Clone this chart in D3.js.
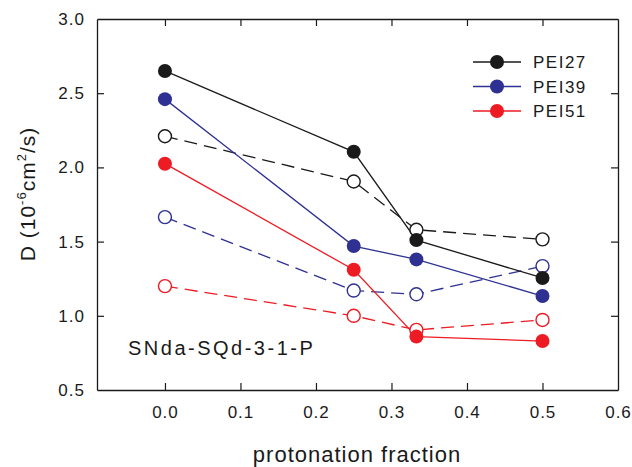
<!DOCTYPE html>
<html>
<head>
<meta charset="utf-8">
<script src="https://cdn.jsdelivr.net/npm/d3@7"></script>
<style>
  body { margin: 0; background: #fff; }
  svg text { font-family: Arial, "Liberation Sans", sans-serif; fill: #1a1a1a; }
</style>
</head>
<body>
<div id="chart"></div>
<script>
// data
const fractions = [0.0, 0.25, 0.333, 0.5];
const pei27Filled = [2.65, 2.105, 1.51, 1.255];
const pei27Open = [2.21, 1.905, 1.58, 1.515];
const pei39Filled = [2.46, 1.47, 1.38, 1.133];
const pei39Open = [1.665, 1.17, 1.145, 1.335];
const pei51Filled = [2.025, 1.31, 0.86, 0.83];
const pei51Open = [1.20, 1.00, 0.905, 0.972];
const seriesNames = ["PEI27", "PEI39", "PEI51"];
const seriesColors = ["#1a1a1a", "#2e3192", "#ed1c24"];
const xTicks = [0.0, 0.1, 0.2, 0.3, 0.4, 0.5, 0.6];
const yTicks = [0.5, 1.0, 1.5, 2.0, 2.5, 3.0];

const width = 632, height = 467;
const margin = { top: 19, right: 14, bottom: 77, left: 97 };
const innerW = width - margin.left - margin.right;
const innerH = height - margin.top - margin.bottom;

const x = d3.scaleLinear([-0.09, 0.6], [0, innerW]);
const y = d3.scaleLinear([0.5, 3.0], [innerH, 0]);

const svg = d3.select("#chart").append("svg")
  .attr("width", width).attr("height", height);
const g = svg.append("g").attr("transform", `translate(${margin.left},${margin.top})`);

const axisColor = "#1a1a1a";
const fmt = d3.format(".1f");

// axes, ticks pointing inward on all four sides
const axisB = g.append("g").attr("transform", `translate(0,${innerH})`)
  .call(d3.axisBottom(x).tickValues(xTicks).tickFormat(fmt).tickSizeInner(-7).tickSizeOuter(0).tickPadding(16));
const axisT = g.append("g")
  .call(d3.axisTop(x).tickValues(xTicks).tickFormat("").tickSizeInner(-7).tickSizeOuter(0));
const axisL = g.append("g")
  .call(d3.axisLeft(y).tickValues(yTicks).tickFormat(fmt).tickSizeInner(-7).tickSizeOuter(0).tickPadding(12));
const axisR = g.append("g").attr("transform", `translate(${innerW},0)`)
  .call(d3.axisRight(y).tickValues(yTicks).tickFormat("").tickSizeInner(-7).tickSizeOuter(0));

[axisB, axisT, axisL, axisR].forEach(a => {
  a.select(".domain").attr("stroke", axisColor).attr("stroke-width", 1.3);
  a.selectAll(".tick line").attr("stroke", axisColor).attr("stroke-width", 1.2);
  a.selectAll("text").attr("font-size", 17).attr("letter-spacing", "1px")
    .attr("fill", "#1a1a1a").attr("font-family", "Arial, 'Liberation Sans', sans-serif");
});
// hide ticks at the frame edges
axisB.selectAll(".tick").filter(d => d === 0.6).select("line").remove();
axisT.selectAll(".tick").filter(d => d === 0.6).select("line").remove();
axisL.selectAll(".tick").filter(d => d === 0.5 || d === 3.0).select("line").remove();
axisR.selectAll(".tick").filter(d => d === 0.5 || d === 3.0).select("line").remove();

// axis titles
svg.append("text")
  .attr("x", 357).attr("y", 462)
  .attr("text-anchor", "middle").attr("font-size", 22).attr("letter-spacing", "1px")
  .text("protonation fraction");

const yTitle = svg.append("text")
  .attr("transform", `translate(35,${194}) rotate(-90)`)
  .attr("text-anchor", "middle").attr("font-size", 21).attr("letter-spacing", "1px");
yTitle.append("tspan").text("D (10");
yTitle.append("tspan").attr("font-size", 13).attr("dy", -9).text("-6");
yTitle.append("tspan").attr("dy", 9).text("cm");
yTitle.append("tspan").attr("font-size", 13).attr("dy", -9).text("2");
yTitle.append("tspan").attr("dy", 9).text("/s)");

// series
const filled = [pei27Filled, pei39Filled, pei51Filled];
const open = [pei27Open, pei39Open, pei51Open];
const line = d3.line().x(d => x(d[0])).y(d => y(d[1]));

open.forEach((vals, i) => {
  const pts = fractions.map((f, j) => [f, vals[j]]);
  g.append("path").datum(pts).attr("d", line)
    .attr("fill", "none").attr("stroke", seriesColors[i]).attr("stroke-width", 1.3)
    .attr("stroke-dasharray", "13,7");
});
filled.forEach((vals, i) => {
  const pts = fractions.map((f, j) => [f, vals[j]]);
  g.append("path").datum(pts).attr("d", line)
    .attr("fill", "none").attr("stroke", seriesColors[i]).attr("stroke-width", 1.3);
});
open.forEach((vals, i) => {
  g.selectAll(null).data(fractions.map((f, j) => [f, vals[j]])).join("circle")
    .attr("cx", d => x(d[0])).attr("cy", d => y(d[1])).attr("r", 6.5)
    .attr("fill", "#fff").attr("stroke", seriesColors[i]).attr("stroke-width", 1.4);
});
filled.forEach((vals, i) => {
  g.selectAll(null).data(fractions.map((f, j) => [f, vals[j]])).join("circle")
    .attr("cx", d => x(d[0])).attr("cy", d => y(d[1])).attr("r", 7)
    .attr("fill", seriesColors[i]);
});

// annotation
svg.append("text").attr("x", 128).attr("y", 355)
  .attr("font-size", 20).attr("letter-spacing", "2.5px").text("SNda-SQd-3-1-P");

// legend
const legend = svg.append("g").attr("transform", "translate(473,62)");
seriesNames.forEach((name, i) => {
  const row = legend.append("g").attr("transform", `translate(0,${i * 24.5})`);
  row.append("line").attr("x1", 0).attr("x2", 48).attr("stroke", seriesColors[i]).attr("stroke-width", 1.3);
  row.append("circle").attr("cx", 24).attr("r", 7).attr("fill", seriesColors[i]);
  row.append("text").attr("x", 60).attr("dy", "0.36em").attr("font-size", 17)
    .attr("letter-spacing", "1.5px").text(name);
});
</script>
</body>
</html>
